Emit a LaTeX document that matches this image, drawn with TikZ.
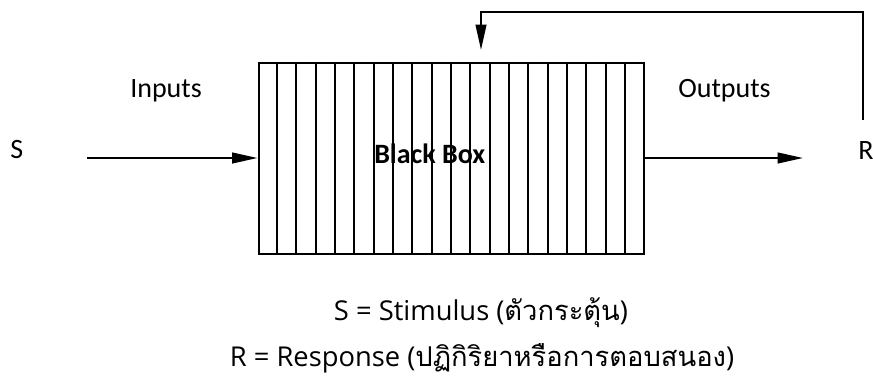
\documentclass[tikz,border=0pt]{standalone}
\usepackage{fontspec}
\setmainfont{Carlito}
\newfontfamily\thaifont[Script=Thai]{Loma}
\newfontfamily\latfont{Open Sans}
\usetikzlibrary{arrows.meta,calc}
\tikzset{
  conn/.style={line width=1.5pt,-{Triangle[length=19pt,width=8pt]}},
  lbl/.style={font=\fontsize{21pt}{25pt}\selectfont, inner sep=0pt, anchor=base west},
  note/.style={font=\fontsize{20.5pt}{25pt}\selectfont, inner sep=0pt, anchor=base},
  bbox/.style={draw, line width=1.5pt, minimum width=288.75pt, minimum height=143.25pt, inner sep=0pt},
  stripe/.style={line width=1.5pt}
}
\begin{document}
\begin{tikzpicture}[x=0.75pt,y=-0.75pt]
\useasboundingbox (0,0) rectangle (873,379);
\node[bbox] (box) at (451,158) {};
\foreach \k in {1,...,19}
  \draw[stripe] ($(box.north west)!\k/20!(box.north east)$) -- ($(box.south west)!\k/20!(box.south east)$);
\node[lbl, font=\fontsize{21pt}{25pt}\selectfont\bfseries] (bb) at (374,163) {Black Box};
\node[lbl] (S) at (10,158) {S};
\node[lbl] (R) at (858,159) {R};
\node[lbl] (inp) at (130,97) {Inputs};
\node[lbl] (outp) at (678,97) {Outputs};
\coordinate (in) at (87,158);
\coordinate (out) at (803,158);
\coordinate (fb) at (863,120);
\coordinate (fbend) at (481,50);
\draw[conn] (in) -- (box.west);
\draw[conn] (box.east) -- (out);
\draw[conn] (fb) -- (fb |- 0,12) -| (fbend);
\node[note] (n1) at (481,320) {\latfont S = Stimulus (\thaifont ตัวกระตุ้น\latfont )};
\node[note] (n2) at (482,366) {\latfont R = Response (\thaifont ปฏิกิริยาหรือการตอบสนอง\latfont )};
\end{tikzpicture}
\end{document}
